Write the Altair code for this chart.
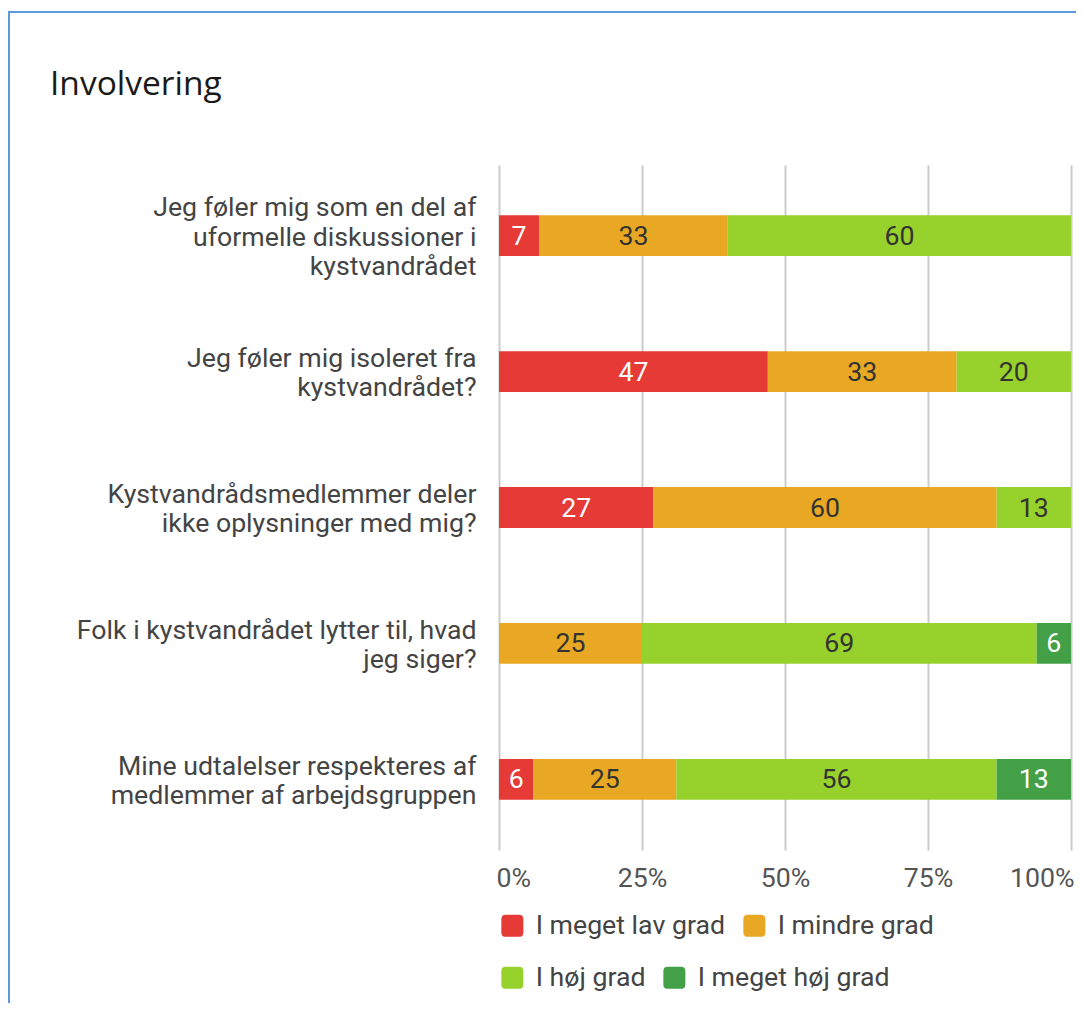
import altair as alt
import pandas as pd

questions = [
    "Jeg føler mig som en del af\nuformelle diskussioner i\nkystvandrådet",
    "Jeg føler mig isoleret fra\nkystvandrådet?",
    "Kystvandrådsmedlemmer deler\nikke oplysninger med mig?",
    "Folk i kystvandrådet lytter til, hvad\njeg siger?",
    "Mine udtalelser respekteres af\nmedlemmer af arbejdsgruppen",
]
categories = ["I meget lav grad", "I mindre grad", "I høj grad", "I meget høj grad"]
colors = ["#E53A36", "#E8A823", "#97D12B", "#43A047"]
text_colors = ["#ffffff", "#333333", "#333333", "#ffffff"]

meget_lav = [7, 47, 27, 0, 6]
mindre = [33, 33, 60, 25, 25]
hoej = [60, 20, 13, 69, 56]
meget_hoej = [0, 0, 0, 6, 13]
series = [meget_lav, mindre, hoej, meget_hoej]

rows = []
for qi, q in enumerate(questions):
    for ci, c in enumerate(categories):
        rows.append({"question": q, "category": c, "order": ci,
                     "value": series[ci][qi], "tcolor": text_colors[ci]})
df = pd.DataFrame(rows)

FONT = "Roboto"
FS = 26.7
LH = 29.5

base = alt.Chart(df).transform_stack(
    stack="value", groupby=["question"], as_=["v0", "v1"],
    sort=[alt.SortField("order", order="ascending")], offset="normalize"
).transform_calculate(mid="(datum.v0 + datum.v1) / 2")

yenc = alt.Y("question:N", sort=questions, title=None,
             scale=alt.Scale(paddingInner=0.7, paddingOuter=0.37),
             axis=alt.Axis(labelExpr="split(datum.label, '\\n')", labelFont=FONT,
                           labelFontSize=FS, labelColor="#444444", labelLineHeight=LH,
                           labelOffset={"expr": f"2 - (length(split(datum.label, '\\n')) - 1) * {LH / 2}"},
                           labelPadding=23, ticks=False, domain=False, grid=False,
                           labelLimit=0))

xenc = alt.X("v0:Q", scale=alt.Scale(domain=[0, 1]), title=None,
             axis=alt.Axis(format=".0%", values=[0, 0.25, 0.5, 0.75, 1],
                           labelFont=FONT, labelFontSize=FS, labelColor="#555555",
                           labelPadding=15, ticks=False, domain=False,
                           grid=True, gridColor="#cccccc", gridWidth=2,
                           labelFlush=True, labelFlushOffset=3))

SYM = "M-1,-0.6Q-1,-1,-0.6,-1L0.6,-1Q1,-1,1,-0.6L1,0.6Q1,1,0.6,1L-0.6,1Q-1,1,-1,0.6Z"


def legend_at(y):
    return alt.Legend(title=None, orient="none", legendX=0, legendY=y,
                      direction="horizontal", columnPadding=15,
                      labelFont=FONT, labelFontSize=FS, labelColor="#444444",
                      labelOffset=10, labelLimit=0, symbolSize=484,
                      symbolStrokeWidth=0, symbolType=SYM, symbolOpacity=1,
                      padding=0)


def bar_layer(cats, cols, y):
    return base.transform_filter(
        alt.FieldOneOfPredicate(field="category", oneOf=cats)
    ).mark_bar().encode(
        x=xenc,
        x2="v1:Q",
        y=yenc,
        color=alt.Color("category:N", scale=alt.Scale(domain=cats, range=cols),
                        sort=cats, legend=legend_at(y)),
    )


bars_a = bar_layer(categories[:2], colors[:2], 747)
bars_b = bar_layer(categories[2:], colors[2:], 799)

labels = base.transform_filter("datum.value > 0").mark_text(
    font=FONT, fontSize=FS, baseline="middle", align="center", dy=1
).encode(
    x=alt.X("mid:Q"),
    y=alt.Y("question:N", sort=questions),
    text=alt.Text("value:Q"),
    color=alt.Color("tcolor:N", scale=None),
)

border = alt.Chart(pd.DataFrame({"a": [0]})).mark_rect(
    filled=False, stroke="#5B9BD8", strokeWidth=2
).encode(
    x=alt.value(-490), x2=alt.value(700), y=alt.value(-153), y2=alt.value(1000)
)

chart = alt.layer(border, bars_a, bars_b, labels).resolve_scale(
    color="independent"
).properties(
    width=572, height=685,
    autosize=alt.AutoSizeParams(type="none"),
    padding={"left": 491, "top": 157, "right": 5, "bottom": 153},
    title=alt.TitleParams("Involvering", anchor="start", frame="group", dx=-449,
                          offset=0, dy=91, font="Open Sans", fontSize=33.5,
                          fontWeight="normal", color="#1a1a1a"),
).configure_view(stroke=None)

chart.save("out.html", embed_options={"renderer": "svg", "actions": False})
